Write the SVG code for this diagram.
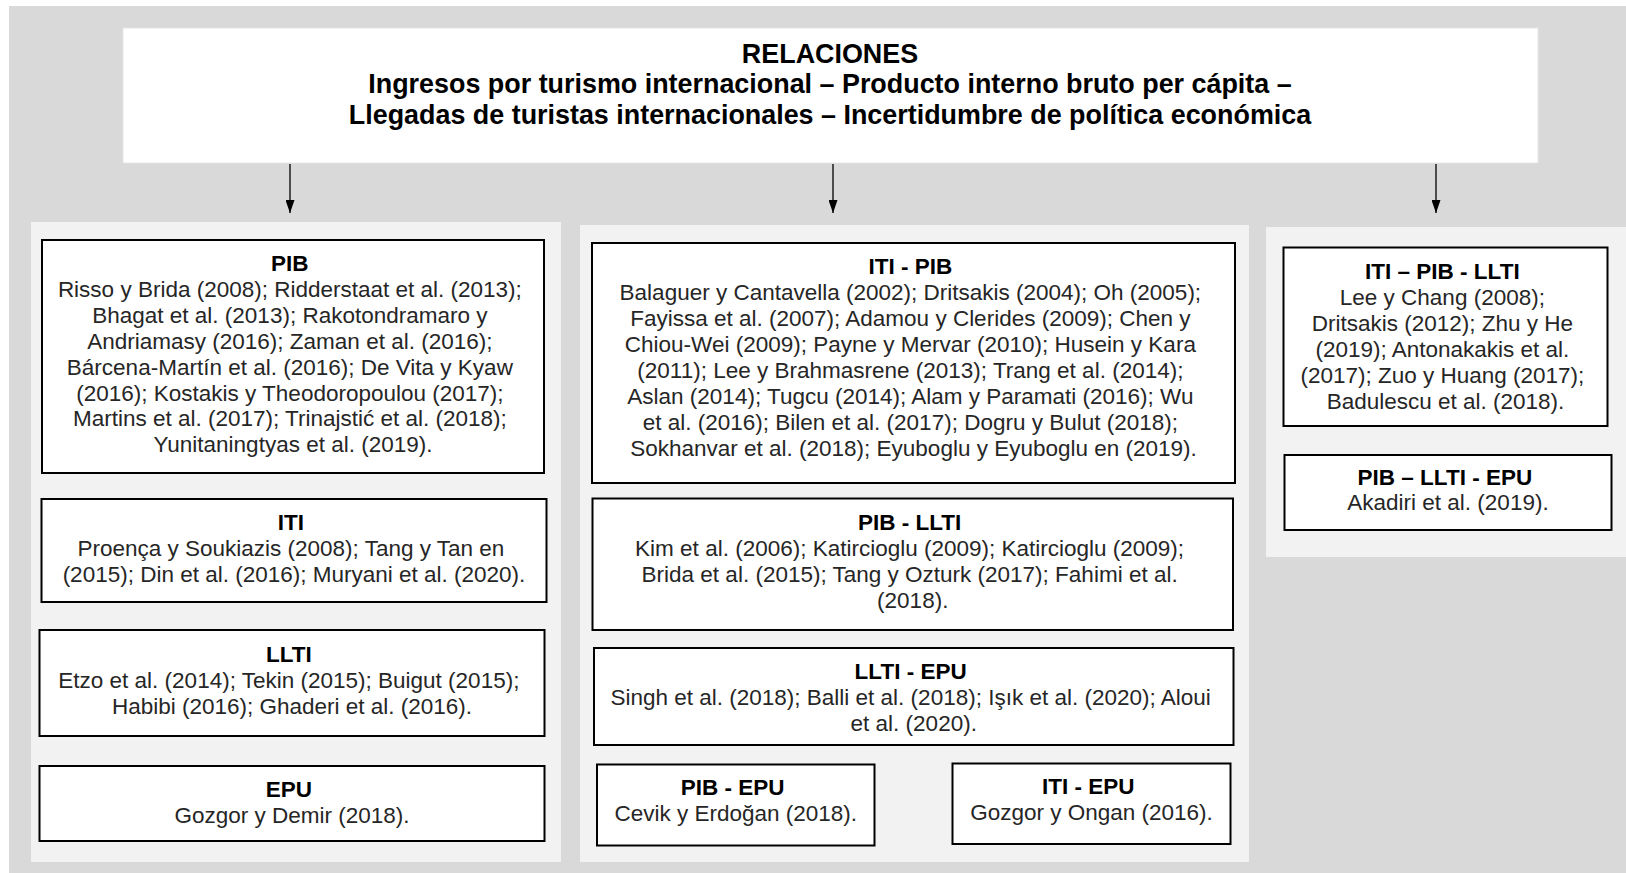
<svg xmlns="http://www.w3.org/2000/svg" width="1626" height="873" viewBox="0 0 1626 873">
<defs>
<style>
.bg{fill:#d9d9d9}
.panel{fill:#f2f2f2}
.hdr{fill:#ffffff;stroke:#e6e6e6;stroke-width:1}
.box{fill:#ffffff;stroke:#000;stroke-width:2}
.t{font-family:"Liberation Sans",Arial,sans-serif;font-size:22.5px;text-anchor:middle;fill:#262626}
.t .h{font-weight:bold;fill:#000}
.ht{font-family:"Liberation Sans",Arial,sans-serif;font-size:26.9px;font-weight:bold;text-anchor:middle;fill:#000}
.conn{stroke:#000;stroke-width:1.3;fill:none;marker-end:url(#arr)}
</style>
<marker id="arr" viewBox="0 0 13 9" refX="13" refY="4.5" markerWidth="13" markerHeight="9" markerUnits="userSpaceOnUse" orient="auto">
<path d="M0,0 L13,4.5 L0,9 Z" fill="#000"/>
</marker>
</defs>
<rect class="bg" x="9" y="6" width="1617" height="867"/>
<rect class="panel" x="31" y="222" width="530" height="640"/>
<rect class="panel" x="580" y="225" width="669" height="637"/>
<rect class="panel" x="1266" y="227" width="360" height="330"/>

<g id="header">
<rect class="hdr" x="123" y="28" width="1415" height="135"/>
<text class="ht" x="830" y="63">RELACIONES</text>
<text class="ht" x="830" y="92.5">Ingresos por turismo internacional – Producto interno bruto per cápita –</text>
<text class="ht" x="830" y="123.5">Llegadas de turistas internacionales – Incertidumbre de política económica</text>
</g>

<g id="connectors">
<line class="conn" x1="290" y1="164" x2="290" y2="213"/>
<line class="conn" x1="833" y1="164" x2="833" y2="213"/>
<line class="conn" x1="1436" y1="164" x2="1436" y2="213"/>
</g>

<g id="pib">
<rect class="box" x="42" y="240" width="502" height="233"/>
<text class="t">
<tspan class="h" x="293" y="271">PIB</tspan>
<tspan x="293" y="297">Risso y Brida (2008); Ridderstaat et al. (2013);</tspan>
<tspan x="293" y="323">Bhagat et al. (2013); Rakotondramaro y</tspan>
<tspan x="293" y="348.5">Andriamasy (2016); Zaman et al. (2016);</tspan>
<tspan x="293" y="374.5">Bárcena-Martín et al. (2016); De Vita y Kyaw</tspan>
<tspan x="293" y="400.5">(2016); Kostakis y Theodoropoulou (2017);</tspan>
<tspan x="293" y="426">Martins et al. (2017); Trinajstić et al. (2018);</tspan>
<tspan x="293" y="452">Yunitaningtyas et al. (2019).</tspan>
</text>
</g>

<g id="iti">
<rect class="box" x="41.5" y="499" width="505" height="103"/>
<text class="t">
<tspan class="h" x="294" y="530">ITI</tspan>
<tspan x="294" y="556">Proença y Soukiazis (2008); Tang y Tan en</tspan>
<tspan x="294" y="582">(2015); Din et al. (2016); Muryani et al. (2020).</tspan>
</text>
</g>

<g id="llti">
<rect class="box" x="39.5" y="630" width="505" height="106"/>
<text class="t">
<tspan class="h" x="292" y="662">LLTI</tspan>
<tspan x="292" y="688">Etzo et al. (2014); Tekin (2015); Buigut (2015);</tspan>
<tspan x="292" y="714">Habibi (2016); Ghaderi et al. (2016).</tspan>
</text>
</g>

<g id="epu">
<rect class="box" x="39.5" y="766" width="505" height="75"/>
<text class="t">
<tspan class="h" x="292" y="797">EPU</tspan>
<tspan x="292" y="823">Gozgor y Demir (2018).</tspan>
</text>
</g>

<g id="iti-pib">
<rect class="box" x="592" y="243" width="643" height="240"/>
<text class="t">
<tspan class="h" x="913.5" y="274">ITI - PIB</tspan>
<tspan x="913.5" y="300">Balaguer y Cantavella (2002); Dritsakis (2004); Oh (2005);</tspan>
<tspan x="913.5" y="326">Fayissa et al. (2007); Adamou y Clerides (2009); Chen y</tspan>
<tspan x="913.5" y="352">Chiou-Wei (2009); Payne y Mervar (2010); Husein y Kara</tspan>
<tspan x="913.5" y="378">(2011); Lee y Brahmasrene (2013); Trang et al. (2014);</tspan>
<tspan x="913.5" y="403.5">Aslan (2014); Tugcu (2014); Alam y Paramati (2016); Wu</tspan>
<tspan x="913.5" y="429.5">et al. (2016); Bilen et al. (2017); Dogru y Bulut (2018);</tspan>
<tspan x="913.5" y="455.5">Sokhanvar et al. (2018); Eyuboglu y Eyuboglu en (2019).</tspan>
</text>
</g>

<g id="pib-llti">
<rect class="box" x="592.5" y="498.5" width="640.5" height="131.5"/>
<text class="t">
<tspan class="h" x="912.75" y="530">PIB - LLTI</tspan>
<tspan x="912.75" y="556">Kim et al. (2006); Katircioglu (2009); Katircioglu (2009);</tspan>
<tspan x="912.75" y="582">Brida et al. (2015); Tang y Ozturk (2017); Fahimi et al.</tspan>
<tspan x="912.75" y="607.5">(2018).</tspan>
</text>
</g>

<g id="llti-epu">
<rect class="box" x="594" y="648" width="639.5" height="97"/>
<text class="t">
<tspan class="h" x="913.75" y="679">LLTI - EPU</tspan>
<tspan x="913.75" y="705">Singh et al. (2018); Balli et al. (2018); Işık et al. (2020); Aloui</tspan>
<tspan x="913.75" y="731">et al. (2020).</tspan>
</text>
</g>

<g id="pib-epu">
<rect class="box" x="597" y="764.5" width="277.5" height="81"/>
<text class="t">
<tspan class="h" x="735.75" y="795">PIB - EPU</tspan>
<tspan x="735.75" y="821">Cevik y Erdoğan (2018).</tspan>
</text>
</g>

<g id="iti-epu">
<rect class="box" x="952.5" y="763.5" width="278" height="80.5"/>
<text class="t">
<tspan class="h" x="1091.5" y="794">ITI - EPU</tspan>
<tspan x="1091.5" y="820">Gozgor y Ongan (2016).</tspan>
</text>
</g>

<g id="iti-pib-llti">
<rect class="box" x="1283.5" y="247.5" width="324" height="178.5"/>
<text class="t">
<tspan class="h" x="1445.5" y="279">ITI – PIB - LLTI</tspan>
<tspan x="1445.5" y="305">Lee y Chang (2008);</tspan>
<tspan x="1445.5" y="331">Dritsakis (2012); Zhu y He</tspan>
<tspan x="1445.5" y="357">(2019); Antonakakis et al.</tspan>
<tspan x="1445.5" y="382.5">(2017); Zuo y Huang (2017);</tspan>
<tspan x="1445.5" y="408.5">Badulescu et al. (2018).</tspan>
</text>
</g>

<g id="pib-llti-epu">
<rect class="box" x="1284.5" y="455" width="327" height="75"/>
<text class="t">
<tspan class="h" x="1448" y="485">PIB – LLTI - EPU</tspan>
<tspan x="1448" y="510">Akadiri et al. (2019).</tspan>
</text>
</g>
</svg>
